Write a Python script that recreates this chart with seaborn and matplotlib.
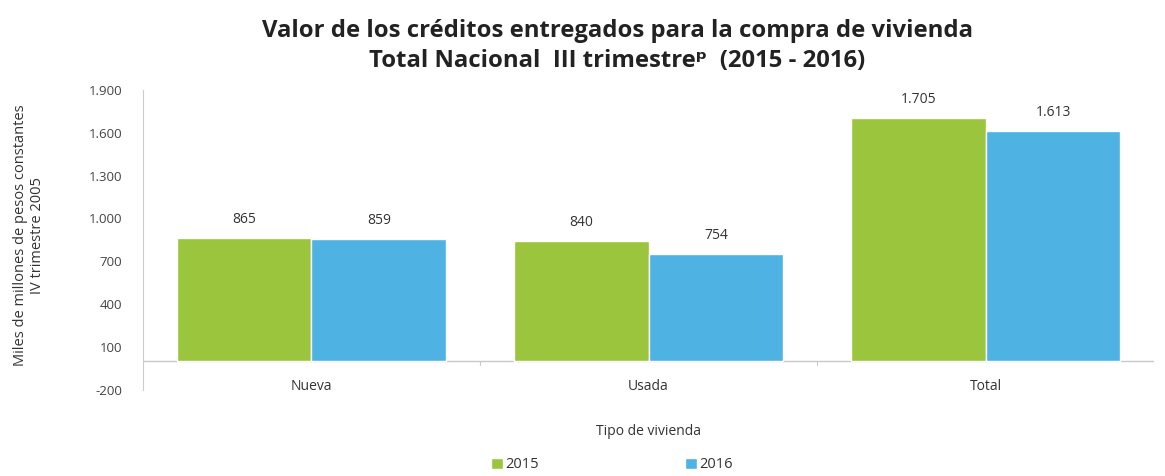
import matplotlib
matplotlib.use("Agg")
import matplotlib.pyplot as plt
import pandas as pd
import seaborn as sns

# Data
tipos = ["Nueva", "Usada", "Total"]
anios = ["2015", "2016"]
valores_2015 = [865, 840, 1705]
valores_2016 = [859, 754, 1613]
yticks = [-200, 100, 400, 700, 1000, 1300, 1600, 1900]

df = pd.DataFrame({
    "tipo": tipos * 2,
    "anio": [anios[0]] * 3 + [anios[1]] * 3,
    "valor": valores_2015 + valores_2016,
})

sns.set_theme(style="white")
plt.rcParams["font.family"] = ["Open Sans", "DejaVu Sans"]

colores = {"2015": "#9BC53D", "2016": "#4EB3E3"}

def fmt(v):
    return f"{int(v):,}".replace(",", ".")

fig = plt.figure(figsize=(11.65, 4.76), dpi=100)
ax = fig.add_axes([0.1227, 0.181, 0.868, 0.630])

sns.barplot(data=df, x="tipo", y="valor", hue="anio", palette=colores,
            width=0.8, saturation=1, edgecolor="white", linewidth=1, ax=ax)

for cont in ax.containers:
    ax.bar_label(cont, labels=[fmt(v) for v in cont.datavalues],
                 padding=8, fontsize=10, color="#333333")

ax.set_ylim(-200, 1900)
ax.set_yticks(yticks)
ax.set_yticklabels([fmt(t) for t in yticks], fontsize=9.5, color="#444444")
ax.set_xlim(-0.5, 2.5)
ax.tick_params(axis="x", length=0, pad=-8, labelsize=10, labelcolor="#333333")
ax.tick_params(axis="y", length=3, width=0.6, color="#cccccc", pad=12)

# x axis line at zero with boundary ticks
ax.axhline(0, color="#c8c8c8", linewidth=1, zorder=0)
for b in [0.5, 1.5]:
    ax.plot([b, b], [0, -25], color="#c8c8c8", linewidth=0.8)

for s in ["top", "right", "bottom"]:
    ax.spines[s].set_visible(False)
ax.spines["left"].set_color("#cccccc")
ax.spines["left"].set_linewidth(0.8)

ax.set_xlabel("Tipo de vivienda", fontsize=10, color="#333333", labelpad=22)
ax.set_ylabel("")
fig.text(0.025, 0.505, "Miles de millones de pesos constantes\nIV trimestre 2005",
         rotation=90, ha="center", va="center", multialignment="center",
         fontsize=10.5, color="#333333")

fig.text(0.53, 0.935, "Valor de los créditos entregados para la compra de vivienda",
         ha="center", va="center", fontsize=17.2, fontweight="bold", color="#222222")
fig.text(0.53, 0.872, "Total Nacional  III trimestreᵖ  (2015 - 2016)",
         ha="center", va="center", fontsize=17.2, fontweight="bold", color="#222222")

leg = ax.legend(loc="center", bbox_to_anchor=(0.464, -0.25), ncol=2,
                frameon=False, fontsize=10.5, handlelength=0.8, handleheight=0.8,
                handletextpad=0.2, columnspacing=10)
for t in leg.get_texts():
    t.set_color("#333333")

fig.savefig("out.png", dpi=100)
